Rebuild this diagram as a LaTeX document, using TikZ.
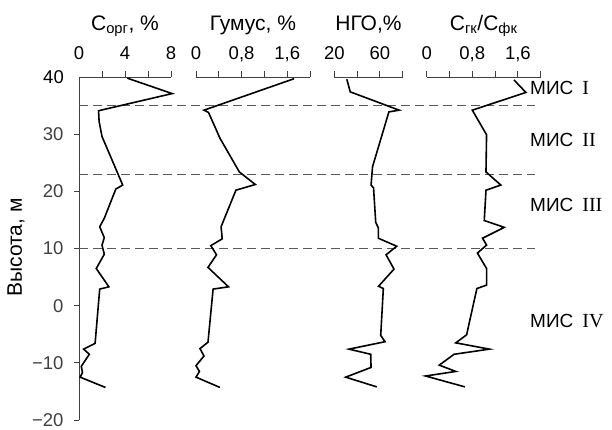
\documentclass[tikz,border=0pt]{standalone}
\usepackage{fontspec}
\setmainfont{Liberation Sans}
\newfontfamily\romfont{Liberation Serif}
\newcommand{\misname}[1]{МИС\hspace{9pt}{\romfont\fontsize{20}{22}\selectfont #1}}

\begin{document}
\begin{tikzpicture}[x=1pt,y=5.717pt,
    curve/.style={line width=1.6pt,black},
    axis/.style={line width=1pt,black!75},
    level/.style={line width=1pt,black!65,dash pattern=on 9pt off 5pt},
    ticklabel/.style={anchor=base,inner sep=0pt,font=\fontsize{18.5}{20}\selectfont},
    title/.style={anchor=base,inner sep=0pt,font=\fontsize{21}{24}\selectfont},
    stage/.style={anchor=west,inner sep=0pt,font=\fontsize{19}{21}\selectfont}]

    \useasboundingbox (-79,-21.57) rectangle (533,53.47);

    % vertical axis
    \draw[axis] (0,40) -- (0,-20);
    % labels
    \foreach \h/\lab in {30/30,20/20,10/10,0/0,-10/−10,-20/−20}
        \draw[axis] (0,\h) -- ++(-5,0) node[ticklabel,anchor=east,xshift=-10pt] {\lab};
    \draw (0,40) node[ticklabel,anchor=east,xshift=-15pt] {40};
    \node[rotate=90,inner sep=0pt,font=\fontsize{21}{24}\selectfont] (ylab) at (-63,10.2) {Высота, м};

    % stage boundaries
    \foreach \h in {35,23,10}
        \draw[level] (0,\h) -- (456,\h);
    \node[stage] (mis1) at (451,38.1) {\misname{I}};
    \node[stage] (mis2) at (451,29.0) {\misname{II}};
    \node[stage] (mis3) at (451,17.6) {\misname{III}};
    \node[stage] (mis4) at (451,-2.7) {\misname{IV}};

    % C org
    \begin{scope}[x=11.5pt]
        \draw[axis] (0,40) -- (8,40);
        \foreach \v in {2,4,6,8} \draw[axis] (\v,40) -- ++(0,6pt);
        \foreach \v in {0,4,8} \node[ticklabel] at (\v,43) {\v};
        \node[title] (corg) at (4,48.2) {C\textsubscript{орг}, \%};
        \draw[curve] plot coordinates {(4.2,39.8) (8.1,37.1) (1.7,34.1) (1.75,32.2)
            (2.0,29.6) (3.8,21.1) (3.2,20.4) (2.2,15.3) (1.8,13.8) (2.2,11.9)
            (2.0,10.6) (2.2,9.0) (1.5,6.5) (2.6,3.3) (1.8,2.9) (1.4,-6.6)
            (0.4,-7.6) (0.9,-8.5) (0.2,-10.6) (0.3,-11.7) (0.1,-12.5) (2.3,-14.3)};
    \end{scope}

    % humus
    \begin{scope}[xshift=117pt,x=57pt]
        \draw[axis] (0,40) -- (2,40);
        \foreach \v in {0,0.4,0.8,1.2,1.6,2.0} \draw[axis] (\v,40) -- ++(0,6pt);
        \foreach \v/\lab in {0/0,0.8/{0,8},1.6/{1,6}} \node[ticklabel] at (\v,43) {\lab};
        \node[title] (humus) at (1,48.2) {Гумус, \%};
        \draw[curve] plot coordinates {(1.72,39.7) (0.14,34.2) (0.22,33.8) (0.42,29.3)
            (0.76,23.4) (1.04,21.2) (0.70,20.2) (0.44,13.8) (0.46,11.7) (0.26,10.5)
            (0.36,8.9) (0.21,6.7) (0.57,3.3) (0.30,2.9) (0.21,-6.4) (0.07,-7.5)
            (0.14,-8.8) (0.0,-10.5) (0.06,-11.5) (0.0,-12.5) (0.42,-14.3)};
    \end{scope}

    % NGO
    \begin{scope}[xshift=232.6pt,x=1.1367pt]
        \draw[axis] (20,40) -- (80,40);
        \foreach \v in {20,40,60,80} \draw[axis] (\v,40) -- ++(0,6pt);
        \foreach \v in {20,60} \node[ticklabel] at (\v,43) {\v};
        \node[title] (ngo) at (50,48.2) {НГО,\%};
        \draw[curve] plot coordinates {(31,39.6) (34,37.4) (77,34.2) (68,33.9)
            (53.6,24.3) (52.3,21.1) (54.5,20.6) (56.4,14.6) (58.7,13.6) (58.7,11.8)
            (74.9,10.4) (65.5,8.9) (72.5,6.4) (58.9,3.4) (63.1,3.0) (60.8,-5.2)
            (64.6,-6.3) (32.9,-7.6) (52.0,-8.5) (52.3,-10.8) (30.0,-12.5) (57.3,-14.2)};
    \end{scope}

    % C gk / C fk
    \begin{scope}[xshift=347.7pt,x=57pt]
        \draw[axis] (0,40) -- (2,40);
        \foreach \v in {0,0.4,0.8,1.2,1.6,2.0} \draw[axis] (\v,40) -- ++(0,6pt);
        \foreach \v/\lab in {0/0,0.8/{0,8},1.6/{1,6}} \node[ticklabel] at (\v,43) {\lab};
        \node[title] (ratio) at (1,48.2) {C\textsubscript{гк}/C\textsubscript{фк}};
        \draw[curve] plot coordinates {(1.53,39.5) (1.74,37.3) (0.80,34.2) (1.05,29.9)
            (1.04,23.4) (1.30,21.1) (1.04,20.2) (1.01,14.9) (1.36,13.7) (0.98,11.8)
            (1.05,10.6) (0.89,9.2) (1.05,6.5) (1.05,3.6) (0.88,3.0) (0.70,-5.1)
            (0.51,-6.5) (1.10,-7.6) (0.48,-8.5) (0.22,-10.4) (0.51,-11.5) (-0.02,-12.3)
            (0.67,-14.2)};
    \end{scope}

\end{tikzpicture}
\end{document}
